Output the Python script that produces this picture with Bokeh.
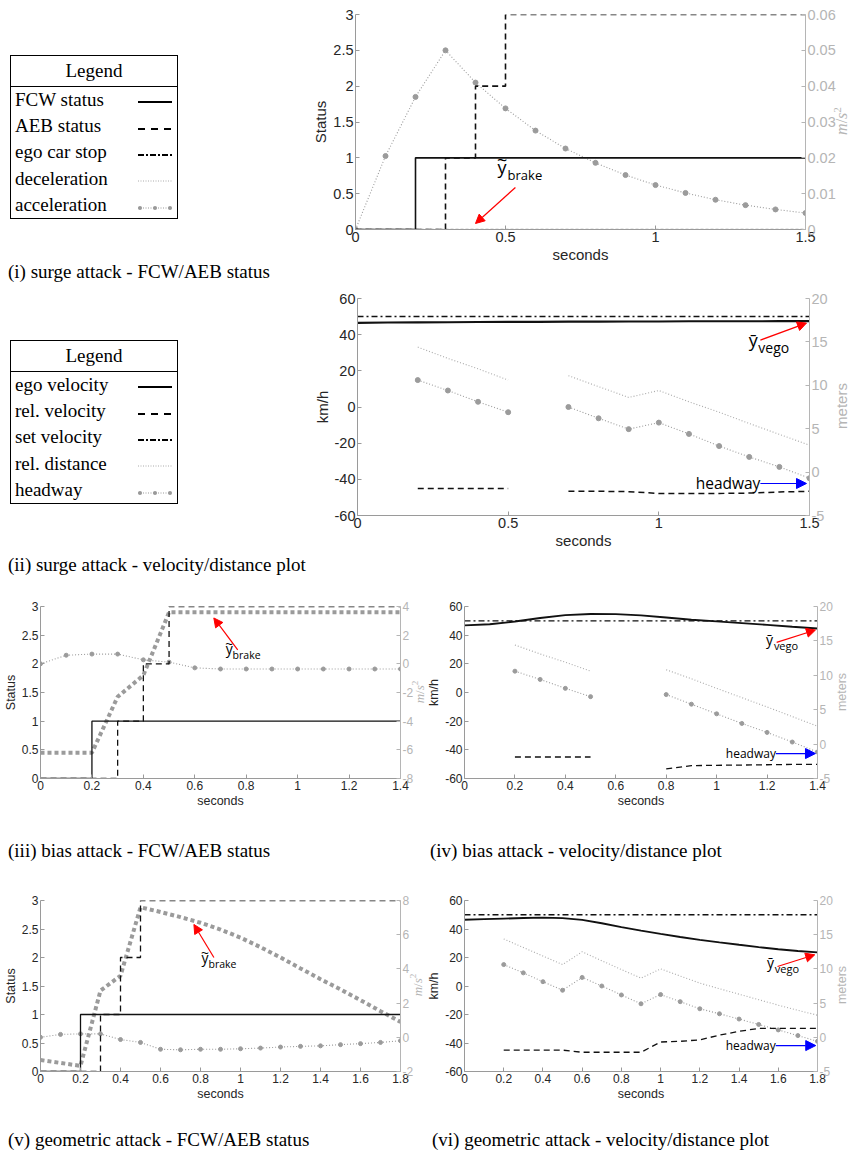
import math
from bokeh.plotting import figure
from bokeh.models import (Range1d, LinearAxis, FixedTicker, CustomJSTickFormatter,
                          Label, Arrow, NormalHead, Div)
from bokeh.layouts import row, column
from bokeh.embed import file_html
from bokeh.resources import INLINE

nan = float("nan")

# ---------------- data: (i) surge attack - FCW/AEB status ----------------
t_i = [0.0, 0.1, 0.2, 0.3, 0.4, 0.5, 0.6, 0.7, 0.8, 0.9, 1.0, 1.1, 1.2, 1.3, 1.4, 1.5]
fcw_t_i = [0.0, 0.2, 1.5]
fcw_i = [0, 1, 1]
aeb_t_i = [0.0, 0.3, 0.4, 0.5, 1.5]
aeb_i = [0, 1, 2, 3, 3]
stop_t_i = [0.0, 1.5]
stop_i = [0, 0]
decel_i = [0, 0, 0, 0, 0, 0, 0, 0, 0, 0, 0, 0, 0, 0, 0, 0]
accel_i = [0.0, 0.0205, 0.037, 0.050, 0.041, 0.0338, 0.0276, 0.0226, 0.0186,
           0.0152, 0.0124, 0.0102, 0.0083, 0.0068, 0.0056, 0.0046]

# ---------------- data: (ii) surge attack - velocity/distance ----------------
t_ii = t_i
ego_v_ii = [46.5, 46.7, 46.8, 46.9, 47.0, 47.1, 47.1, 47.2, 47.2, 47.3, 47.3, 47.4, 47.4, 47.4, 47.5, 47.5]
set_v_ii = [50, 50, 50, 50, 50, 50, 50, 50, 50, 50, 50, 50, 50, 50, 50, 50]
t2_ii = [0.2, 0.3, 0.4, 0.5, 0.6, 0.7, 0.8, 0.9, 1.0, 1.1, 1.2, 1.3, 1.4, 1.5]
rel_v_ii = [-45, -45, -45, -45, nan, -46.6, -46.6, -46.8, -47.8, -47.8, -47.8, -47.6, -47.0, -46.6]
rel_d_ii = [14.4, 13.1, 11.9, 10.6, nan, 11.1, 9.85, 8.6, 9.4, 8.1, 6.9, 5.6, 4.35, 3.1]
headway_ii = [10.6, 9.4, 8.1, 6.9, nan, 7.5, 6.2, 4.95, 5.7, 4.4, 3.0, 1.75, 0.6, -0.7]

# ---------------- data: (iii) bias attack - FCW/AEB status ----------------
t_iii = [0.0, 0.1, 0.2, 0.3, 0.4, 0.5, 0.6, 0.7, 0.8, 0.9, 1.0, 1.1, 1.2, 1.3, 1.4]
fcw_t_iii = [0.0, 0.2, 1.4]
fcw_iii = [0, 1, 1]
aeb_t_iii = [0.0, 0.3, 0.4, 0.5, 1.4]
aeb_iii = [0, 1, 2, 3, 3]
stop_t_iii = [0.0, 1.4]
stop_iii = [0, 0]
decel_iii = [-6.2, -6.2, -6.2, -2.3, -0.8, 3.6, 3.6, 3.6, 3.6, 3.6, 3.6, 3.6, 3.6, 3.6, 3.6]
accel_iii = [0.0, 0.6, 0.68, 0.68, 0.28, 0.12, -0.28, -0.36, -0.36, -0.36, -0.36, -0.36, -0.36, -0.36, -0.36]

# ---------------- data: (iv) bias attack - velocity/distance ----------------
t_iv = t_iii
ego_v_iv = [46.8, 47.6, 49.5, 52.0, 54.0, 54.8, 54.7, 53.8, 52.3, 50.8, 49.6, 48.4, 47.2, 45.9, 44.7]
set_v_iv = [50, 50, 50, 50, 50, 50, 50, 50, 50, 50, 50, 50, 50, 50, 50]
t2_iv = [0.2, 0.3, 0.4, 0.5, 0.6, 0.7, 0.8, 0.9, 1.0, 1.1, 1.2, 1.3, 1.4]
rel_v_iv = [-45, -45, -45, -45, nan, nan, -53.3, -51.0, -50.8, -50.6, -50.4, -50.2, -50.1]
rel_d_iv = [14.4, 13.1, 11.9, 10.6, nan, nan, 10.8, 9.5, 8.1, 6.75, 5.4, 4.0, 2.6]
headway_iv = [10.6, 9.4, 8.1, 6.9, nan, nan, 7.2, 5.8, 4.4, 3.0, 1.7, 0.3, -1.15]

# ---------------- data: (v) geometric attack - FCW/AEB status ----------------
t_v = [0.0, 0.1, 0.2, 0.3, 0.4, 0.5, 0.6, 0.7, 0.8, 0.9, 1.0, 1.1, 1.2, 1.3, 1.4, 1.5, 1.6, 1.7, 1.8]
fcw_t_v = [0.0, 0.2, 1.8]
fcw_v = [0, 1, 1]
aeb_t_v = [0.0, 0.3, 0.4, 0.5, 1.8]
aeb_v = [0, 1, 2, 3, 3]
stop_t_v = [0.0, 1.8]
stop_v = [0, 0]
decel_v = [-1.33, -1.5, -1.67, 2.73, 3.6, 7.6, 7.33, 7.03, 6.7, 6.3, 5.83, 5.27, 4.67,
           4.03, 3.4, 2.8, 2.17, 1.53, 0.9]
accel_v = [0.0, 0.17, 0.2, 0.2, -0.13, -0.3, -0.7, -0.73, -0.7, -0.7, -0.67, -0.63,
           -0.57, -0.53, -0.5, -0.43, -0.37, -0.3, -0.2]

# ---------------- data: (vi) geometric attack - velocity/distance ----------------
t_vi = t_v
ego_v_vi = [46.5, 46.9, 47.3, 47.7, 48.0, 47.6, 46.4, 44.0, 41.3, 38.9, 36.6, 34.4, 32.4,
            30.6, 28.9, 27.3, 25.8, 24.6, 23.6]
set_v_vi = [50] * 19
t2_vi = [0.2, 0.3, 0.4, 0.5, 0.6, 0.7, 0.8, 0.9, 1.0, 1.1, 1.2, 1.3, 1.4, 1.5, 1.6, 1.7, 1.8]
rel_v_vi = [-45, -45, -45, -45, -46.5, -46.5, -46.5, -46.5, -39.3, -38.8, -37.8, -34.5,
            -31.8, -29.8, -29.8, -29.8, -29.8]
rel_d_vi = [14.38, 13.13, 11.88, 10.63, 12.5, 11.2, 9.9, 8.65, 10.0, 8.96, 7.92, 7.1, 6.3,
            5.5, 4.7, 3.95, 3.23]
headway_vi = [10.63, 9.42, 8.13, 6.88, 8.75, 7.5, 6.19, 4.9, 6.25, 5.21, 4.17, 3.44, 2.67,
              1.88, 1.08, 0.25, -0.58]

# ---------------- ticks ----------------
status_ticks = [0, 0.5, 1, 1.5, 2, 2.5, 3]
kmh_ticks = [-60, -40, -20, 0, 20, 40, 60]
meter_ticks = [-5, 0, 5, 10, 15, 20]
x_ticks_15 = [0, 0.5, 1, 1.5]
x_ticks_14 = [0, 0.2, 0.4, 0.6, 0.8, 1.0, 1.2, 1.4]
x_ticks_18 = [0, 0.2, 0.4, 0.6, 0.8, 1.0, 1.2, 1.4, 1.6, 1.8]
acc_ticks_i = [0, 0.01, 0.02, 0.03, 0.04, 0.05, 0.06]
acc_ticks_iii = [-8, -6, -4, -2, 0, 2, 4]
acc_ticks_v = [-2, 0, 2, 4, 6, 8]

FMT = "return String(Math.round(tick*1000)/1000);"
DARK = "#262626"
AXC = "#9a9a9a"
RIGHTC = "#b5b5b5"
GRAY = "#9b9b9b"
SANS = "Liberation Sans"
SERIF = "Liberation Serif"
ANN = "Open Sans"


def style_axis(ax, ticks, fs, lfs, line_c, lab_c):
    ax.ticker = FixedTicker(ticks=ticks)
    ax.formatter = CustomJSTickFormatter(code=FMT)
    ax.axis_line_color = line_c
    ax.major_tick_line_color = line_c
    ax.minor_tick_line_color = None
    ax.major_tick_in = 4
    ax.major_tick_out = 0
    ax.major_label_text_font = SANS
    ax.major_label_text_font_size = fs
    ax.major_label_text_color = lab_c
    ax.axis_label_text_font = SANS
    ax.axis_label_text_font_style = "normal"
    ax.axis_label_text_font_size = lfs
    ax.axis_label_text_color = lab_c
    ax.major_label_standoff = 2
    ax.axis_label_standoff = 1


def make_fig(w, h, bl, br, bt, bb, xmax, yl, yr, xt, ylt, yrt, fs, lfs, ylabel):
    p = figure(width=w, height=h, x_range=Range1d(0, xmax), y_range=Range1d(*yl),
               output_backend="svg", toolbar_location=None,
               min_border_left=bl, min_border_right=br, min_border_top=bt,
               min_border_bottom=bb)
    p.extra_y_ranges = {"right": Range1d(*yr)}
    p.add_layout(LinearAxis(y_range_name="right"), "right")
    p.xgrid.visible = False
    p.ygrid.visible = False
    p.outline_line_color = None
    p.border_fill_color = None
    style_axis(p.xaxis[0], xt, fs, lfs, AXC, DARK)
    p.xaxis[0].axis_label = "seconds"
    style_axis(p.yaxis[0], ylt, fs, lfs, AXC, DARK)
    p.yaxis[0].axis_label = ylabel
    style_axis(p.yaxis[1], yrt, fs, lfs, RIGHTC, RIGHTC)
    return p


def status_panel(p, fcw_t, fcw, aeb_t, aeb, stop_t, stop, t, decel, accel,
                 lw, dec_w, dec_dash, msize):
    p.line(t, decel, y_range_name="right", line_color=GRAY, line_width=dec_w,
           line_dash=dec_dash)
    p.line(t, accel, y_range_name="right", line_color=GRAY, line_width=1.1,
           line_dash="1 2")
    p.scatter(t, accel, y_range_name="right", marker="circle", size=msize,
              fill_color=GRAY, line_color=GRAY)
    p.line(stop_t, stop, line_color=DARK, line_width=1, line_dash="6 2 2 2")
    p.step(fcw_t, fcw, mode="after", line_color="#111111", line_width=lw)
    p.step(aeb_t, aeb, mode="after", line_color="#111111", line_width=lw,
           line_dash="6 4")


def vel_panel(p, t, ego, setv, t2, relv, reld, hw, lw, msize):
    p.line(t2, reld, y_range_name="right", line_color="#aaaaaa", line_width=1.1,
           line_dash="1 2")
    p.line(t2, hw, y_range_name="right", line_color=GRAY, line_width=1.1,
           line_dash="1 2")
    p.scatter(t2, hw, y_range_name="right", marker="circle", size=msize,
              fill_color=GRAY, line_color=GRAY)
    p.line(t, setv, line_color="#111111", line_width=lw, line_dash="6 3 2 3")
    p.line(t, ego, line_color="#111111", line_width=lw + 0.6)
    p.line(t2, relv, line_color="#111111", line_width=lw, line_dash="6 4")


def ybrake(p, x1, y1, x2, y2, fs1, fs2, ax0, ay0, ax1, ay1, toff):
    p.add_layout(Label(x=x1, y=y1, text="y", text_font=ANN, text_font_size=fs1,
                       text_color="#000000"))
    p.add_layout(Label(x=x1, y=y1, y_offset=toff, x_offset=-0.5, text="~", text_font=ANN,
                       text_font_size=fs1, text_color="#000000"))
    p.add_layout(Label(x=x2, y=y2, text="brake", text_font=ANN, text_font_size=fs2,
                       text_color="#000000"))
    p.add_layout(Arrow(end=NormalHead(size=9, fill_color="red", line_color="red"),
                       x_start=ax0, y_start=ay0, x_end=ax1, y_end=ay1,
                       line_color="red", line_width=1.2))


def yvego(p, x1, y1, x2, y2, fs1, fs2, ax0, ay0, ax1, ay1):
    p.add_layout(Label(x=x1, y=y1, text="\u0233", text_font=ANN, text_font_size=fs1,
                       text_color="#000000"))
    p.add_layout(Label(x=x2, y=y2, text="vego", text_font=ANN, text_font_size=fs2,
                       text_color="#000000"))
    p.add_layout(Arrow(end=NormalHead(size=9, fill_color="red", line_color="red"),
                       x_start=ax0, y_start=ay0, x_end=ax1, y_end=ay1,
                       line_color="red", line_width=1.2))


def headway_ann(p, x, y, fs, ax1):
    p.add_layout(Label(x=x, y=y, text="headway", text_font=ANN, text_font_size=fs,
                       text_align="right", text_baseline="middle", text_color="#000000"))
    p.add_layout(Arrow(end=NormalHead(size=10, fill_color="blue", line_color="blue"),
                       x_start=x, y_start=y, x_end=ax1, y_end=y,
                       line_color="blue", line_width=1.2))


# ---------------- figure (i) ----------------
p1 = make_fig(549, 266, 55, 44, 14, 37, 1.5, (0, 3), (0, 0.06), x_ticks_15,
              status_ticks, acc_ticks_i, "14.5px", "15px", "Status")
status_panel(p1, fcw_t_i, fcw_i, aeb_t_i, aeb_i, stop_t_i, stop_i, t_i, decel_i,
             accel_i, 1.6, 1.5, "3 2", 5)
ybrake(p1, 0.473, 0.71, 0.507, 0.64, "18px", "13px", 0.533, 0.586, 0.40, 0.084, 7)

# ---------------- figure (ii) ----------------
p2 = make_fig(549, 270, 57, 40, 10, 43, 1.5, (-60, 60), (-5, 20), x_ticks_15,
              kmh_ticks, meter_ticks, "14.5px", "15px", "km/h")
vel_panel(p2, t_ii, ego_v_ii, set_v_ii, t2_ii, rel_v_ii, rel_d_ii, headway_ii, 1.5, 5)
yvego(p2, 1.298, 30.35, 1.33, 27.6, "18px", "14px", 1.337, 37.0, 1.49, 46.4)
headway_ann(p2, 1.337, -42.3, "15.5px", 1.49)

# ---------------- figure (iii) ----------------
p3 = make_fig(424, 252, 39, 24, 26, 53, 1.4, (0, 3), (-8, 4), x_ticks_14,
              status_ticks, acc_ticks_iii, "12px", "12.5px", "Status")
status_panel(p3, fcw_t_iii, fcw_iii, aeb_t_iii, aeb_iii, stop_t_iii, stop_iii, t_iii,
             decel_iii, accel_iii, 1.3, 4, "4 3", 4)
ybrake(p3, 0.72, 2.11, 0.747, 2.025, "14px", "10.5px", 0.767, 2.245, 0.674, 2.80, 5)

# ---------------- figure (iv) ----------------
p4 = make_fig(425, 252, 36, 32, 26, 54, 1.4, (-60, 60), (-5, 20), x_ticks_14,
              kmh_ticks, meter_ticks, "12px", "12.5px", "km/h")
vel_panel(p4, t_iv, ego_v_iv, set_v_iv, t2_iv, rel_v_iv, rel_d_iv, headway_iv, 1.3, 4)
yvego(p4, 1.196, 30.6, 1.227, 27.8, "14px", "11px", 1.238, 35.0, 1.392, 43.6)
headway_ann(p4, 1.235, -42.6, "12px", 1.392)

# ---------------- figure (v) ----------------
p5 = make_fig(424, 252, 40, 24, 33, 46, 1.8, (0, 3), (-2, 8), x_ticks_18,
              status_ticks, acc_ticks_v, "12px", "12.5px", "Status")
status_panel(p5, fcw_t_v, fcw_v, aeb_t_v, aeb_v, stop_t_v, stop_v, t_v, decel_v,
             accel_v, 1.3, 4, "4 3", 4)
ybrake(p5, 0.805, 1.84, 0.84, 1.77, "14px", "10.5px", 0.867, 2.0, 0.767, 2.58, 5)

# ---------------- figure (vi) ----------------
p6 = make_fig(425, 252, 37, 32, 34, 47, 1.8, (-60, 60), (-5, 20), x_ticks_18,
              kmh_ticks, meter_ticks, "12px", "12.5px", "km/h")
vel_panel(p6, t_vi, ego_v_vi, set_v_vi, t2_vi, rel_v_vi, rel_d_vi, headway_vi, 1.3, 4)
yvego(p6, 1.542, 9.5, 1.582, 6.7, "14px", "11px", 1.596, 13.7, 1.786, 21.9)
headway_ann(p6, 1.587, -41.8, "12px", 1.791)

# ---------------- legends / captions / right-axis titles (HTML) ----------------
SV = '<svg width="36" height="10" style="display:block">%s</svg>'


def sample(kind):
    if kind == "solid":
        return SV % '<line x1="1" y1="5" x2="35" y2="5" stroke="#000" stroke-width="2"/>'
    if kind == "dash":
        return SV % ('<line x1="1" y1="5" x2="35" y2="5" stroke="#000" stroke-width="2" '
                     'stroke-dasharray="7 6"/>')
    if kind == "dashdot":
        return SV % ('<line x1="1" y1="5" x2="35" y2="5" stroke="#000" stroke-width="2" '
                     'stroke-dasharray="6 2 2 2"/>')
    if kind == "dot":
        return SV % ('<line x1="1" y1="5" x2="35" y2="5" stroke="#aaa" stroke-width="1" '
                     'stroke-dasharray="1 1.5"/>')
    return SV % ('<line x1="1" y1="5" x2="35" y2="5" stroke="#999" stroke-width="1" '
                 'stroke-dasharray="1 1.5"/><circle cx="3" cy="5" r="2" fill="#999"/>'
                 '<circle cx="18" cy="5" r="2" fill="#999"/><circle cx="33" cy="5" r="2" fill="#999"/>')


def legend_html(names, kinds, top):
    rows = ""
    for n, k in zip(names, kinds):
        rows += ('<tr style="height:26.4px"><td style="padding:0 0 0 4px;line-height:20px;'
                 'vertical-align:middle;white-space:nowrap">%s</td>'
                 '<td style="padding:5px 4px 0 0;line-height:0;vertical-align:middle;'
                 'width:38px">%s</td></tr>' % (n, sample(k)))
    return ('<table style="position:absolute;left:10px;top:%dpx;width:168px;'
            'border-collapse:collapse;border:1.5px solid #000;font-family:\'Liberation Serif\';'
            'font-size:19px;color:#000"><tr style="height:31px"><td colspan="2" '
            'style="text-align:center;line-height:22px;border-bottom:1.5px solid #000;'
            'padding:0">Legend</td></tr>%s</table>' % (top, rows))


leg1_names = ["FCW status", "AEB status", "ego car stop", "deceleration", "acceleration"]
leg2_names = ["ego velocity", "rel. velocity", "set velocity", "rel. distance", "headway"]
leg_kinds = ["solid", "dash", "dashdot", "dot", "dotmark"]
captions = ["(i) surge attack - FCW/AEB status",
            "(ii) surge attack - velocity/distance plot",
            "(iii) bias attack - FCW/AEB status",
            "(iv) bias attack - velocity/distance plot",
            "(v) geometric attack - FCW/AEB status",
            "(vi) geometric attack - velocity/distance plot"]
acc_title = "<i>m</i>/<i>s</i><sup style='font-size:70%;line-height:0'>2</sup>"
dist_title = "meters"

CAP = ("position:absolute;top:%dpx;left:%dpx;white-space:nowrap;font-family:'Liberation Serif';"
       "font-size:19px;line-height:22px;color:#000")
RT = ("position:absolute;top:%dpx;left:%dpx;white-space:nowrap;font-family:%s;"
      "font-size:%s;line-height:1;color:#b5b5b5;transform:translate(-50%%,-50%%) rotate(-90deg)")


def box(inner, w, h):
    return '<div style="position:relative;width:%dpx;height:%dpx">%s</div>' % (w, h, inner)


def cap(text, top, left):
    return '<span style="%s">%s</span>' % (CAP % (top, left), text)


def rtitle(text, top, left, font, size):
    return '<span style="%s">%s</span>' % (RT % (top, left, font, size), text)


def mkdiv(html, w, h):
    return Div(text=box(html, w, h), width=w, height=h, margin=0)


SERIF_CSS = "'Liberation Serif'"
SANS_CSS = "'Liberation Sans'"

leg1 = mkdiv(legend_html(leg1_names, leg_kinds, 55), 300, 266)
cap1 = mkdiv(cap(captions[0], -5, 8) +
             rtitle(acc_title, -145, 842, SERIF_CSS, "16px"), 849, 22)
leg2 = mkdiv(legend_html(leg2_names, leg_kinds, 52), 300, 270)
cap2 = mkdiv(cap(captions[1], -4, 8) +
             rtitle(dist_title, -152, 841, SANS_CSS, "15px"), 849, 22)
cap34 = mkdiv(cap(captions[2], 8, 8) + cap(captions[3], 8, 430) +
              rtitle(acc_title, -140, 419, SERIF_CSS, "13px") +
              rtitle(dist_title, -140, 842, SANS_CSS, "12.5px"), 849, 34)
cap56 = mkdiv(cap(captions[4], 11, 8) + cap(captions[5], 11, 432) +
              rtitle(acc_title, -133, 417, SERIF_CSS, "13px") +
              rtitle(dist_title, -133, 842, SANS_CSS, "12.5px"), 849, 40)

layout = column(
    row(leg1, p1, spacing=0),
    cap1,
    row(leg2, p2, spacing=0),
    cap2,
    row(p3, p4, spacing=0),
    cap34,
    row(p5, p6, spacing=0),
    cap56,
    spacing=0,
)

open("out.html", "w").write(file_html(layout, INLINE))
